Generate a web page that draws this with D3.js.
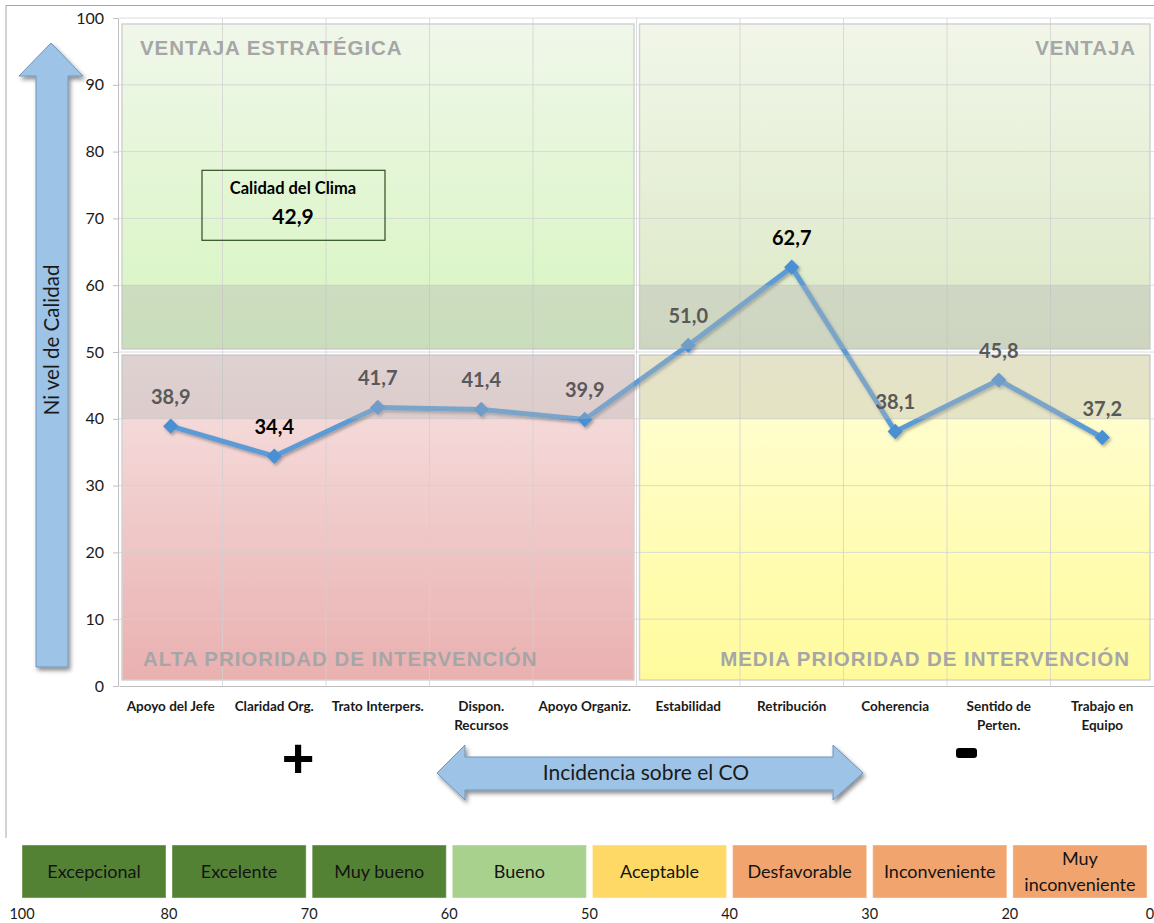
<!DOCTYPE html>
<html>
<head>
<meta charset="utf-8">
<script src="https://cdn.jsdelivr.net/npm/d3@7"></script>
<style>
  html, body { margin: 0; padding: 0; background: #ffffff; }
  svg { display: block; }
</style>
</head>
<body>
<svg id="chart" width="1154" height="923"></svg>
<script>
// ---- Data ----
const categories = ["Apoyo del Jefe", "Claridad Org.", "Trato Interpers.", "Dispon.\nRecursos", "Apoyo Organiz.",
                    "Estabilidad", "Retribución", "Coherencia", "Sentido de\nPerten.", "Trabajo en\nEquipo"];
const values = [38.9, 34.4, 41.7, 41.4, 39.9, 51.0, 62.7, 38.1, 45.8, 37.2];
const yTicks = [0, 10, 20, 30, 40, 50, 60, 70, 80, 90, 100];
const climateScore = 42.9;
const quadrantLabels = ["VENTAJA ESTRATÉGICA", "VENTAJA", "ALTA PRIORIDAD DE INTERVENCIÓN", "MEDIA PRIORIDAD DE INTERVENCIÓN"];
const scaleLevels = ["Excepcional", "Excelente", "Muy bueno", "Bueno", "Aceptable", "Desfavorable", "Inconveniente", "Muy\ninconveniente"];
const scaleBreaks = [100, 80, 70, 60, 50, 40, 30, 20, 0];

// ---- Palette ----
const levelColors = ["#548235", "#548235", "#548235", "#a9d18e", "#ffd966", "#f2a46f", "#f2a46f", "#f2a46f"];
const lineColor = "#5b9bd5";
const arrowFill = "#9dc3e6";
const uiFont = "Lato, 'Open Sans', sans-serif";

const fmt = v => d3.format(".1f")(v).replace(".", ",");

const svg = d3.select("#chart");
const defs = svg.append("defs");

// gradients for the four quadrants
function grad(id, top, bottom) {
  const g = defs.append("linearGradient").attr("id", id).attr("x1", 0).attr("y1", 0).attr("x2", 0).attr("y2", 1);
  g.append("stop").attr("offset", "0%").attr("stop-color", top);
  g.append("stop").attr("offset", "100%").attr("stop-color", bottom);
}
grad("gTL", "#f0f7ea", "#d6f5bf");
grad("gTR", "#f1f6e8", "#dce8c6");
grad("gBL", "#f7e3e3", "#eab0b0");
grad("gBR", "#fffed8", "#fffb9c");

const shadow = defs.append("filter").attr("id", "shadow").attr("x", "-20%").attr("y", "-20%").attr("width", "140%").attr("height", "140%");
shadow.append("feDropShadow").attr("dx", 1.5).attr("dy", 2).attr("stdDeviation", 1.5).attr("flood-color", "#000").attr("flood-opacity", 0.3);
const shadowBig = defs.append("filter").attr("id", "shadowBig").attr("x", "-20%").attr("y", "-20%").attr("width", "140%").attr("height", "140%");
shadowBig.append("feDropShadow").attr("dx", 2).attr("dy", 3).attr("stdDeviation", 2).attr("flood-color", "#000").attr("flood-opacity", 0.45);

// outer chart frame (top and left edges)
svg.append("path").attr("d", "M6,838 V5.5 H1154").attr("fill", "none").attr("stroke", "#a6a6a6").attr("stroke-width", 1);

// ---- Scales ----
const x = d3.scaleBand().domain(d3.range(categories.length)).range([119, 1154]).padding(0);
const y = d3.scaleLinear().domain([0, 100]).range([686, 18]);
const xMid = x(5);

// ---- Quadrants ----
const quads = [
  { x0: x(0) + 3, x1: xMid - 2.5, y0: y(100) + 6, y1: y(50) - 3, fill: "url(#gTL)" },
  { x0: xMid + 3, x1: x.range()[1] - 4, y0: y(100) + 6, y1: y(50) - 3, fill: "url(#gTR)" },
  { x0: x(0) + 3, x1: xMid - 2.5, y0: y(50) + 3, y1: y(0) - 6, fill: "url(#gBL)" },
  { x0: xMid + 3, x1: x.range()[1] - 4, y0: y(50) + 3, y1: y(0) - 6, fill: "url(#gBR)" }
];
svg.append("g").selectAll("rect").data(quads).join("rect")
  .attr("x", d => d.x0).attr("y", d => d.y0)
  .attr("width", d => d.x1 - d.x0).attr("height", d => d.y1 - d.y0)
  .attr("fill", d => d.fill).attr("stroke", "#d2d2d2").attr("stroke-width", 1.5);

// ---- Gridlines ----
const grid = svg.append("g");
grid.selectAll("line.h").data(yTicks.filter(t => t > 0)).join("line")
  .attr("x1", x.range()[0]).attr("x2", x.range()[1])
  .attr("y1", d => y(d)).attr("y2", d => y(d))
  .attr("stroke", "#d0d0d0").attr("stroke-opacity", 0.75).attr("stroke-width", 1);
grid.selectAll("line.v").data(d3.range(1, categories.length)).join("line")
  .attr("x1", d => x(d)).attr("x2", d => x(d))
  .attr("y1", y(100)).attr("y2", y(0))
  .attr("stroke", "#d0d0d0").attr("stroke-opacity", 0.75).attr("stroke-width", 1);

// ---- Axes ----
const yAxis = svg.append("g").attr("transform", `translate(${x.range()[0] - 1},0)`)
  .call(d3.axisLeft(y).tickValues(yTicks).tickSize(5).tickPadding(9));
yAxis.select(".domain").attr("stroke", "#bfbfbf");
yAxis.selectAll(".tick line").attr("stroke", "#bfbfbf");
yAxis.selectAll(".tick text").attr("font-family", uiFont).attr("font-size", 16).attr("fill", "#1a1a1a");

const xAxis = svg.append("g").attr("transform", `translate(0,${y(0)})`)
  .call(d3.axisBottom(x).tickSize(0).tickFormat(() => ""));
xAxis.select(".domain").attr("stroke", "#bfbfbf");

// category labels (may break onto two lines)
const catLabels = svg.append("g").selectAll("text").data(categories).join("text")
  .attr("text-anchor", "middle")
  .attr("font-family", uiFont).attr("font-weight", 700).attr("font-size", 13.5)
  .attr("fill", "#1a1a1a");
catLabels.each(function(d, i) {
  const lines = d.split("\n");
  d3.select(this).selectAll("tspan").data(lines).join("tspan")
    .attr("x", x(i) + x.bandwidth() / 2)
    .attr("y", (l, j) => y(0) + 25 + j * 19)
    .text(l => l);
});

// ---- Series line and markers ----
const pts = values.map((v, i) => [x(i) + x.bandwidth() / 2, y(v)]);
const series = svg.append("g").attr("filter", "url(#shadow)");
series.append("path").datum(pts)
  .attr("d", d3.line())
  .attr("fill", "none").attr("stroke", lineColor).attr("stroke-width", 5).attr("stroke-linejoin", "round");
series.selectAll("path.m").data(pts).join("path")
  .attr("d", d3.symbol(d3.symbolDiamond2, 150)())
  .attr("transform", d => `translate(${d[0]},${d[1]})`)
  .attr("fill", "#4a8fd3");

// ---- Semi-transparent reference bands (50–60 and 40–50) ----
const bands = [
  { x0: quads[0].x0, x1: quads[0].x1, y0: y(60), y1: quads[0].y1 },
  { x0: quads[1].x0, x1: quads[1].x1, y0: y(60), y1: quads[1].y1 },
  { x0: quads[2].x0, x1: quads[2].x1, y0: quads[2].y0, y1: y(40) },
  { x0: quads[3].x0, x1: quads[3].x1, y0: quads[3].y0, y1: y(40) }
];
svg.append("g").selectAll("rect").data(bands).join("rect")
  .attr("x", d => d.x0).attr("y", d => d.y0)
  .attr("width", d => d.x1 - d.x0).attr("height", d => d.y1 - d.y0)
  .attr("fill", "rgb(180,180,180)").attr("fill-opacity", 0.36);

// ---- Quadrant titles ----
const qFont = "'Liberation Sans', Arial, sans-serif";
const qPos = [
  { x: quads[0].x0 + 18, y: y(100) + 37, anchor: "start" },
  { x: quads[1].x1 - 14, y: y(100) + 37, anchor: "end" },
  { x: quads[2].x0 + 21, y: y(0) - 20, anchor: "start" },
  { x: quads[3].x1 - 20, y: y(0) - 20, anchor: "end" }
];
svg.append("g").selectAll("text").data(quadrantLabels).join("text")
  .attr("x", (d, i) => qPos[i].x).attr("y", (d, i) => qPos[i].y)
  .attr("text-anchor", (d, i) => qPos[i].anchor)
  .attr("font-family", qFont).attr("font-weight", 700).attr("font-size", 20.5)
  .attr("letter-spacing", 0.95)
  .attr("fill", "#a6a6a6")
  .text(d => d);

// ---- Data labels (lowest and highest in black) ----
const vMin = d3.min(values), vMax = d3.max(values);
svg.append("g").selectAll("text").data(values).join("text")
  .attr("x", (d, i) => x(i) + x.bandwidth() / 2)
  .attr("y", d => y(d) - 22)
  .attr("text-anchor", "middle")
  .attr("font-family", uiFont).attr("font-weight", 700).attr("font-size", 20)
  .attr("fill", d => (d === vMin || d === vMax) ? "#000000" : "#595959")
  .text(d => fmt(d));

// ---- Overall climate score box ----
const box = svg.append("g");
box.append("rect").attr("x", 202).attr("y", y(77.2)).attr("width", 183).attr("height", 70)
  .attr("fill", "none").attr("stroke", "#2f4f1f").attr("stroke-width", 1.2);
box.append("text").attr("x", 293).attr("y", 194).attr("text-anchor", "middle")
  .attr("font-family", uiFont).attr("font-weight", 700).attr("font-size", 16.5)
  .attr("fill", "#000").text("Calidad del Clima");
box.append("text").attr("x", 293).attr("y", 224).attr("text-anchor", "middle")
  .attr("font-family", uiFont).attr("font-weight", 700).attr("font-size", 21)
  .attr("fill", "#000").text(fmt(climateScore));

// ---- Vertical quality arrow ----
const vArrow = svg.append("g");
vArrow.append("path")
  .attr("d", "M51,43 L83,76 L68,76 L68,667 L36,667 L36,76 L19,76 Z")
  .attr("fill", arrowFill).attr("stroke", "#6f93bd").attr("stroke-width", 1)
  .attr("filter", "url(#shadowBig)");
vArrow.append("text")
  .attr("transform", "translate(59,340) rotate(-90)")
  .attr("text-anchor", "middle")
  .attr("font-family", uiFont).attr("font-size", 20.5)
  .attr("fill", "#1a1a1a").text("Ni vel de Calidad");

// ---- Horizontal incidence arrow ----
const hArrow = svg.append("g");
hArrow.append("path")
  .attr("d", "M437,773 L465,745 L465,757 L833,757 L833,745 L863,773 L833,800 L833,790 L465,790 L465,800 Z")
  .attr("fill", arrowFill).attr("stroke", "#6f93bd").attr("stroke-width", 1)
  .attr("filter", "url(#shadowBig)");
hArrow.append("text").attr("x", 646).attr("y", 780).attr("text-anchor", "middle")
  .attr("font-family", uiFont).attr("font-size", 21)
  .attr("fill", "#1a1a1a").text("Incidencia sobre el CO");

// plus / minus signs flanking the arrow
svg.append("text").attr("x", 298).attr("y", 777).attr("text-anchor", "middle")
  .attr("font-family", "'Liberation Sans', Arial, sans-serif").attr("font-weight", 700).attr("font-size", 56)
  .attr("fill", "#000").text("+");
svg.append("rect").attr("x", 956).attr("y", 748).attr("width", 21).attr("height", 10).attr("rx", 3)
  .attr("fill", "#000");

// ---- Rating scale ----
const sp = d3.scalePoint().domain(scaleBreaks.slice(1)).range([169, 1150]);
const sx = b => (b === scaleBreaks[0] ? 22 : sp(b));
const scaleG = svg.append("g");
const levels = scaleLevels.map((name, i) => ({ name, i, a: scaleBreaks[i], b: scaleBreaks[i + 1] }));
const boxLeft = d => sx(d.a) + (d.i === 0 ? 0 : 3);
const boxRight = d => sx(d.b) - 3;
scaleG.selectAll("rect").data(levels).join("rect")
  .attr("x", boxLeft)
  .attr("y", 845)
  .attr("width", d => boxRight(d) - boxLeft(d))
  .attr("height", 53)
  .attr("fill", d => levelColors[d.i])
  .attr("stroke", "#ffffff").attr("stroke-opacity", 0.4).attr("stroke-width", 1);
const lvText = scaleG.selectAll("text.lv").data(levels).join("text")
  .attr("text-anchor", "middle")
  .attr("font-family", uiFont).attr("font-size", 18)
  .attr("fill", "#141414");
lvText.each(function(d) {
  const lines = d.name.split("\n");
  const cx = (boxLeft(d) + boxRight(d)) / 2;
  d3.select(this).selectAll("tspan").data(lines).join("tspan")
    .attr("x", cx)
    .attr("y", (l, j) => 878 + (j - (lines.length - 1) / 2) * 26)
    .text(l => l);
});
scaleG.selectAll("text.br").data(scaleBreaks).join("text")
  .attr("x", d => sx(d)).attr("y", 919)
  .attr("text-anchor", "middle")
  .attr("font-family", uiFont).attr("font-size", 14.5)
  .attr("fill", "#1a1a1a")
  .text(d => d);
</script>
</body>
</html>
